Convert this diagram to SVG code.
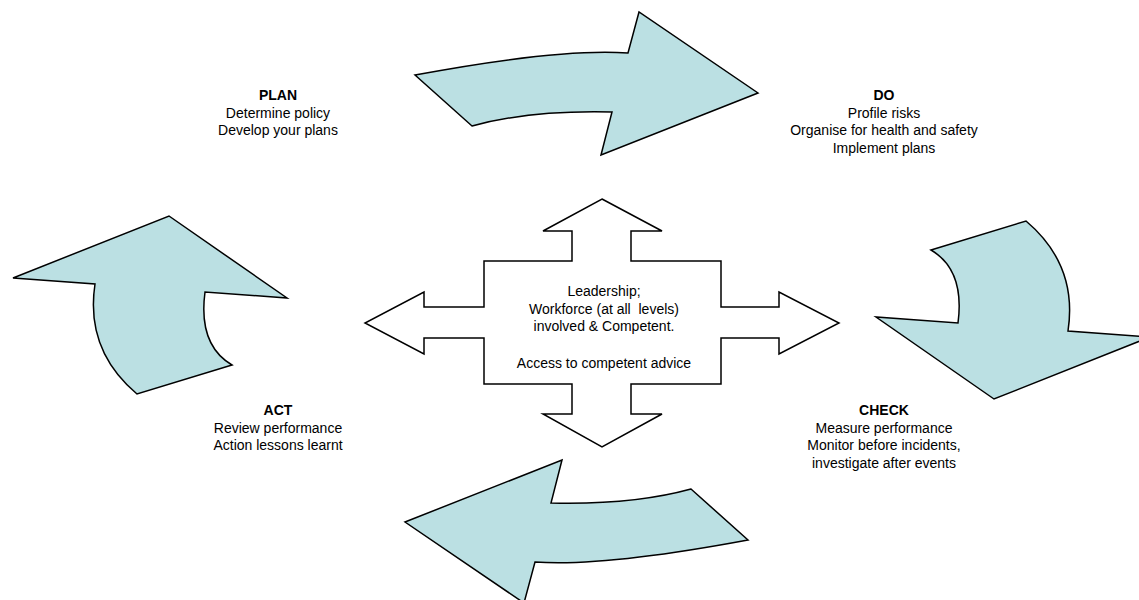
<svg xmlns="http://www.w3.org/2000/svg" width="1139" height="600" viewBox="0 0 1139 600">
  <style>
    .arrow { fill: #bbe0e3; stroke: #000; stroke-width: 1.5; stroke-linejoin: miter; }
    .cross { fill: #fff; stroke: #000; stroke-width: 1.5; }
    text { font-family: "Liberation Sans", Arial, sans-serif; font-size: 14px; fill: #000; text-anchor: middle; }
    .title { font-weight: bold; }
  </style>
  <defs>
    <path id="curvedH" d="M415,75 Q560,48 628,53 L639,12 L758,93 L601,155 L612,112 Q530,110 472,126 Z"/>
    <path id="curvedV" d="M169,216 L287,298 L205,292 Q198,345 232,365 L137,394 Q85,350 95,284 L13,278 Z"/>
  </defs>
  <rect width="1139" height="600" fill="#fff"/>
  <g id="connectors">
    <use href="#curvedH" class="arrow"/>
    <use href="#curvedH" class="arrow" transform="rotate(180 581.5 307.5)"/>
    <use href="#curvedV" class="arrow"/>
    <use href="#curvedV" class="arrow" transform="rotate(180 581.5 307.5)"/>
  </g>
  <g id="center">
    <path class="cross" d="M602,199 L662,231 L631,231 L631,261 L721,261 L721,307 L779,307 L779,292 L839,323 L779,354 L779,338 L721,338 L721,384 L631,384 L631,414 L662,414 L602,447 L543,414 L572,414 L572,384 L484,384 L484,338 L424,338 L424,354 L365,323 L424,292 L424,307 L484,307 L484,261 L572,261 L572,231 L543,231 Z"/>
    <text x="604" y="296">Leadership;</text>
    <text x="604" y="314">Workforce (at all&#160; levels)</text>
    <text x="604" y="331">involved &amp; Competent.</text>
    <text x="604" y="368">Access to competent advice</text>
  </g>
  <g id="plan">
    <text class="title" x="278" y="100">PLAN</text>
    <text x="278" y="117.5">Determine policy</text>
    <text x="278" y="135">Develop your plans</text>
  </g>
  <g id="do">
    <text class="title" x="884" y="100">DO</text>
    <text x="884" y="117.5">Profile risks</text>
    <text x="884" y="135">Organise for health and safety</text>
    <text x="884" y="152.5">Implement plans</text>
  </g>
  <g id="act">
    <text class="title" x="278" y="415">ACT</text>
    <text x="278" y="432.5">Review performance</text>
    <text x="278" y="450">Action lessons learnt</text>
  </g>
  <g id="check">
    <text class="title" x="884" y="415">CHECK</text>
    <text x="884" y="432.5">Measure performance</text>
    <text x="884" y="450">Monitor before incidents,</text>
    <text x="884" y="467.5">investigate after events</text>
  </g>
</svg>
